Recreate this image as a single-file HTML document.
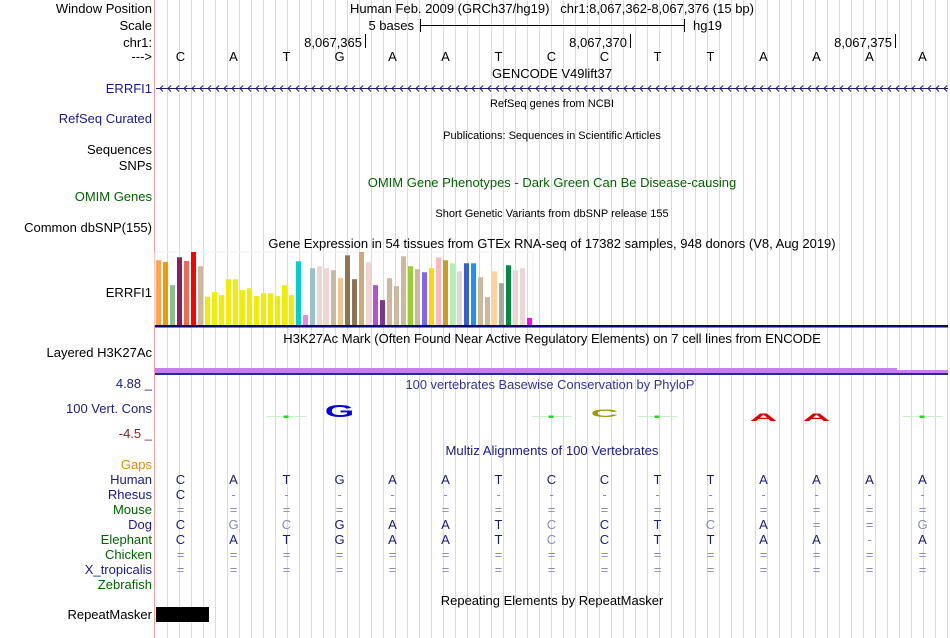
<!DOCTYPE html>
<html><head><meta charset="utf-8">
<style>
body{margin:0;background:#fff;}
svg{display:block;font-family:"Liberation Sans",sans-serif;}
</style></head>
<body>
<svg id="c" width="950" height="638" viewBox="0 0 950 638">
<g id="grid"></g>
<line x1="154.5" y1="0" x2="154.5" y2="638" stroke="#f5a0a0"/>
<g font-size="13" text-anchor="end">
<text x="152" y="13">Window Position</text>
<text x="152" y="30">Scale</text>
<text x="152" y="47">chr1:</text>
<text x="152" y="61">---&gt;</text>
<text x="152" y="93" fill="#1a1a8c">ERRFI1</text>
<text x="152" y="123" fill="#1a1a8c">RefSeq Curated</text>
<text x="152" y="154">Sequences</text>
<text x="152" y="170">SNPs</text>
<text x="152" y="201" fill="#006400">OMIM Genes</text>
<text x="152" y="232">Common dbSNP(155)</text>
<text x="152" y="297">ERRFI1</text>
<text x="152" y="357">Layered H3K27Ac</text>
<text x="152" y="413" fill="#1a1a8c">100 Vert. Cons</text>
<text x="152" y="388" fill="#1a1a8c">4.88 _</text>
<text x="152" y="438" fill="#8b1a1a">-4.5 _</text>
<text x="152" y="469" fill="#e68a00">Gaps</text>
<text x="152" y="619">RepeatMasker</text>
</g>
<g id="species" font-size="13" text-anchor="end"></g>
<g font-size="13" text-anchor="middle">
<text x="552" y="13">Human Feb. 2009 (GRCh37/hg19)&#160;&#160;&#160;chr1:8,067,362-8,067,376 (15 bp)</text>
<text x="552" y="78">GENCODE V49lift37</text>
<text x="552" y="107" font-size="11">RefSeq genes from NCBI</text>
<text x="552" y="139" font-size="11">Publications: Sequences in Scientific Articles</text>
<text x="552" y="187" fill="#006400">OMIM Gene Phenotypes - Dark Green Can Be Disease-causing</text>
<text x="552" y="217" font-size="11">Short Genetic Variants from dbSNP release 155</text>
<text x="552" y="248">Gene Expression in 54 tissues from GTEx RNA-seq of 17382 samples, 948 donors (V8, Aug 2019)</text>
<text x="552" y="343">H3K27Ac Mark (Often Found Near Active Regulatory Elements) on 7 cell lines from ENCODE</text>
<text x="550" y="389" fill="#333399" font-size="13" textLength="289" lengthAdjust="spacingAndGlyphs">100 vertebrates Basewise Conservation by PhyloP</text>
<text x="552" y="455" fill="#1a1a8c" font-size="13" textLength="213" lengthAdjust="spacingAndGlyphs">Multiz Alignments of 100 Vertebrates</text>
<text x="552" y="605">Repeating Elements by RepeatMasker</text>
</g>
<g font-size="13">
<text x="414" y="30" text-anchor="end">5 bases</text>
<line x1="420" y1="25.5" x2="685" y2="25.5" stroke="#000"/>
<line x1="420.5" y1="19" x2="420.5" y2="32" stroke="#000"/>
<line x1="684.5" y1="19" x2="684.5" y2="32" stroke="#000"/>
<text x="693" y="30">hg19</text>
</g>
<g id="ruler" font-size="13"></g>
<g id="bases" font-size="13" text-anchor="middle"></g>
<g id="gene"></g>
<g id="bars"></g>
<rect x="155" y="325" width="793" height="2.5" fill="#0a0a6e"/>
<rect x="155" y="368" width="742" height="5" fill="#c77ef0"/>
<rect x="897" y="370" width="51" height="3" fill="#c77ef0"/>
<rect x="155" y="373" width="793" height="2" fill="#2a2a8e"/>
<g id="cons"></g>
<g id="aln" font-size="13" text-anchor="middle"></g>
<rect x="156" y="607" width="53" height="15" fill="#000"/>
</svg>
<script>
const bases = ["C","A","T","G","A","A","T","C","C","T","T","A","A","A","A"];
const rulerTicks = [3,8,13];
const rulerLabels = ["8,067,365","8,067,370","8,067,375"];
const gtexValues = [195,190,120,204,193,220,177,85,99,90,138,138,105,111,87,96,96,87,120,90,192,30,171,177,171,165,141,210,138,220,189,120,75,141,117,207,177,168,159,171,204,195,186,162,186,186,144,84,162,126,180,165,171,21];
const gtexColors = ["#FFA54F","#EE9A00","#8FBC8F","#8B1C62","#EE6A50","#FF0000","#CDB79E","#EEEE00","#EEEE00","#EEEE00","#EEEE00","#EEEE00","#EEEE00","#EEEE00","#EEEE00","#EEEE00","#EEEE00","#EEEE00","#EEEE00","#EEEE00","#00CED1","#EE82EE","#9AC0CD","#EED5D2","#EED5D2","#CDB79E","#EEC591","#8B7355","#8B7355","#CDAA7D","#EED5D2","#B452CD","#7A378B","#CDB79E","#CDB79E","#CDB79E","#9ACD32","#CDB79E","#7B68EE","#FFD700","#FFB6C1","#CD9B1D","#B4EEB4","#D9D9D9","#3A5FCD","#1E90FF","#CDB79E","#CDB79E","#FFD39B","#A6A6A6","#008B45","#EED5D2","#EED5D2","#FF00FF"];
const species = ["Human","Rhesus","Mouse","Dog","Elephant","Chicken","X_tropicalis","Zebrafish"];
const speciesColors = ["#1a1a8c","#1a1a8c","#006400","#1a1a8c","#006400","#006400","#1a1a8c","#006400"];
const alignRows = [
 "CATGAATCCTTAAAA",
 "C--------------",
 "===============",
 "CgcGAATcCTcA==g",
 "CATGAATcCTTAA-A",
 "===============",
 "===============",
 "               "];
const consScores = [0,0,-0.2,3.0,0,0,0,-0.3,2.0,0.3,0,-2.0,-2.0,0,-0.2];

const NS="http://www.w3.org/2000/svg";
function mk(tag,attrs,parent){const e=document.createElementNS(NS,tag);for(const k in attrs)e.setAttribute(k,attrs[k]);parent.appendChild(e);return e;}
const x0=154, bw=53;
const bx=i=>x0+bw*(i+0.5);
const grid=document.getElementById('grid');
for(let x=167.5;x<950;x+=12){const l=mk('line',{x1:x,y1:0,x2:x,y2:638,stroke:'#d8d8f5'},grid);

}
const ruler=document.getElementById('ruler');
rulerTicks.forEach((b,i)=>{const tx=x0+bw*(b+1)-1;
const t=mk('text',{x:tx-3,y:47,'text-anchor':'end'},ruler);t.textContent=rulerLabels[i];


const l=mk('line',{x1:tx+0.5,y1:34,x2:tx+0.5,y2:48,stroke:'#000'},ruler);

});
const bg=document.getElementById('bases');
bases.forEach((b,i)=>{const t=mk('text',{x:bx(i),y:61},bg);t.textContent=b;

});
const gene=document.getElementById('gene');
mk('line',{x1:156,y1:88.5,x2:948,y2:88.5,stroke:'#1a1a6e'},gene);
for(let x=160;x<948;x+=8){const p=mk('path',{d:`M${x+3},85.5 L${x},88.5 L${x+3},91.5`,stroke:'#1a1a6e',fill:'none'},gene);

}
const bars=document.getElementById('bars');
mk('rect',{x:155,y:252,width:378,height:73,fill:'none',stroke:'#eee'},bars);
const maxV=220, plotH=73, base=325;
const ys=v=>plotH*v/maxV;
gtexValues.forEach((v,i)=>{const h=ys(v);const r=mk('rect',{x:156+7*i,y:base-h,width:5,height:h,fill:gtexColors[i]},bars);

});
const sg=document.getElementById('species');
species.forEach((s,i)=>{const t=mk('text',{x:152,y:484+15*i,fill:speciesColors[i]},sg);t.textContent=s;

});
const aln=document.getElementById('aln');
alignRows.forEach((row,r)=>{[...row].forEach((c,i)=>{if(c===' ')return;
const light=(c!==c.toUpperCase())||c==='='||c==='-';
const t=mk('text',{x:bx(i),y:484+15*r,fill:light?'#8a8ac0':'#1a1a7a'},aln);t.textContent=c.toUpperCase();

});});
const cons=document.getElementById('cons');
const cCol={A:'#e00000',C:'#9a9a00',G:'#0000e0',T:'#00c000'};
const zeroY=417, cs=v=>v*4;
consScores.forEach((v,i)=>{if(v===0)return;const h=Math.abs(cs(v));
const b=bases[i];
let t;
if(Math.abs(v)<1){t=mk('g',{},cons);mk('rect',{x:bx(i)-20,y:zeroY-1,width:40,height:1,fill:'#ccf0cc'},t);mk('rect',{x:bx(i)-3,y:zeroY-1.5,width:5,height:2.5,fill:'#22dd22'},t);}
else{const y=v>0?zeroY-h:zeroY-4;
t=mk('text',{x:bx(i),y:zeroY,'text-anchor':'middle','font-size':20,'font-weight':'bold',fill:cCol[b],transform:`translate(${bx(i)},${y}) scale(1.9,${h/14}) translate(${-bx(i)},${-zeroY+14})`},cons);t.textContent=b;}

});
</script>
</body></html>
